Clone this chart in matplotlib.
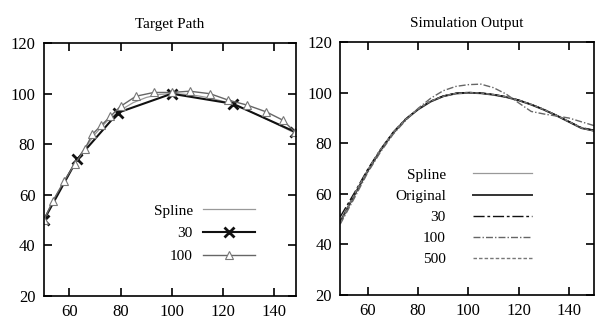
import matplotlib
matplotlib.use('Agg')
from matplotlib import pyplot as plt

plt.rcParams['font.family'] = ['Liberation Serif', 'DejaVu Serif']

# Target path (left panel)
spline_x = [50, 55, 60, 65, 70, 75, 80, 85, 90, 95, 100, 105, 110, 115, 120,
            125, 130, 135, 140, 145, 148]
spline_y = [50, 60, 69, 77, 84, 89.5, 93.5, 96.5, 98.5, 99.7, 100, 99.8, 99.2,
            98.3, 97, 95.3, 93.3, 91, 88.5, 86, 84.5]
p30_x = [50, 63, 79, 100, 124, 148]
p30_y = [50, 74, 92.5, 100, 96, 85]
p100_x = [50, 53.5, 58, 62, 66, 69, 72.5, 76, 80, 86, 93, 100, 107, 115, 122,
          129.5, 137, 143.5, 148]
p100_y = [50, 57.5, 65.5, 72, 78, 84, 87.5, 91, 95, 99, 100.5, 100.5, 101, 100,
          97.5, 95.5, 92.8, 89.5, 85]

# Simulation output (right panel)
sim_x = [49, 55, 60, 65, 70, 75, 80, 85, 90, 95, 100, 105, 110, 115, 120, 125,
         130, 135, 140, 145, 150]
sim_spline = [48.5, 60, 69, 77, 84, 89.5, 93.5, 96.5, 98.5, 99.7, 100, 99.8,
              99.2, 98.3, 97, 95.3, 93.3, 91, 88.5, 86, 84.8]
sim_orig = [49, 60.2, 69.2, 77.2, 84, 89.4, 93.4, 96.5, 98.6, 99.7, 100, 99.8,
            99.2, 98.3, 97, 95.3, 93.3, 91, 88.5, 86, 85]
sim_30 = [50.9, 61, 69.8, 77.5, 84.3, 89.6, 93.5, 96.7, 98.7, 99.8, 100.1, 99.9,
          99.3, 98.4, 97.1, 95.4, 93.4, 91.1, 88.6, 86.2, 85.2]
sim_100 = [48, 59, 68.5, 76.5, 83.5, 89, 93.8, 97.8, 100.8, 102.5, 103.2, 103.4,
           102, 99.5, 96, 92.6, 91.6, 90.8, 90, 88.5, 87]
sim_500 = [48.5, 60.5, 69.5, 77.5, 84.2, 89.5, 93.6, 96.7, 98.6, 99.7, 100,
           99.9, 99.3, 98.4, 97.1, 95.4, 93.4, 91.1, 88.6, 86.1, 84.9]

xticks = [60, 80, 100, 120, 140]
yticks = [20, 40, 60, 80, 100, 120]


def style_axes(ax, title, xlim):
    ax.set_xlim(xlim)
    ax.set_ylim(20, 120)
    ax.set_xticks(xticks)
    ax.set_yticks(yticks)
    ax.tick_params(direction='in', length=6, width=1.2, top=True, right=True,
                   labelsize=12, pad=6)
    for s in ax.spines.values():
        s.set_linewidth(1.2)
    ax.set_title(title, fontsize=11, pad=11)


fig = plt.figure(figsize=(6, 3.27), dpi=100)
ax1 = fig.add_axes([0.073, 0.095, 0.42, 0.773])
ax2 = fig.add_axes([0.567, 0.098, 0.423, 0.773])

ax1.plot(spline_x, spline_y, color='#999999', lw=0.9, label='Spline')
ax1.plot(p30_x, p30_y, color='#111111', lw=1.5, marker='x', ms=7, mew=2,
         label='30')
ax1.plot(p100_x, p100_y, color='#666666', lw=1.0, marker='^', ms=6,
         mfc='white', mec='#777777', mew=0.8, label='100')
style_axes(ax1, 'Target Path', (50, 148.5))
ax1.legend(loc='upper right', bbox_to_anchor=(0.84, 0.364), frameon=False,
           markerfirst=False, fontsize=11, handlelength=3.45,
           handletextpad=0.65, labelspacing=0.59, borderpad=0,
           borderaxespad=0)

ax2.plot(sim_x, sim_spline, color='#999999', lw=0.9, label='Spline')
ax2.plot(sim_x, sim_orig, color='#333333', lw=1.4, label='Original')
ax2.plot(sim_x, sim_30, color='#111111', lw=1.0, ls=(0, (8, 2, 2, 2)),
         label='30')
ax2.plot(sim_x, sim_100, color='#666666', lw=1.0, ls=(0, (5, 1.5, 1, 1.5)),
         label='100')
ax2.plot(sim_x, sim_500, color='#777777', lw=1.0, ls=(0, (2.5, 1.5)),
         label='500')
style_axes(ax2, 'Simulation Output', (49, 150))
ax2.legend(loc='upper right', bbox_to_anchor=(0.756, 0.502), frameon=False,
           markerfirst=False, fontsize=11, handlelength=3.85,
           handletextpad=1.8, labelspacing=0.49, borderpad=0,
           borderaxespad=0)

fig.savefig('out.png', dpi=100)
